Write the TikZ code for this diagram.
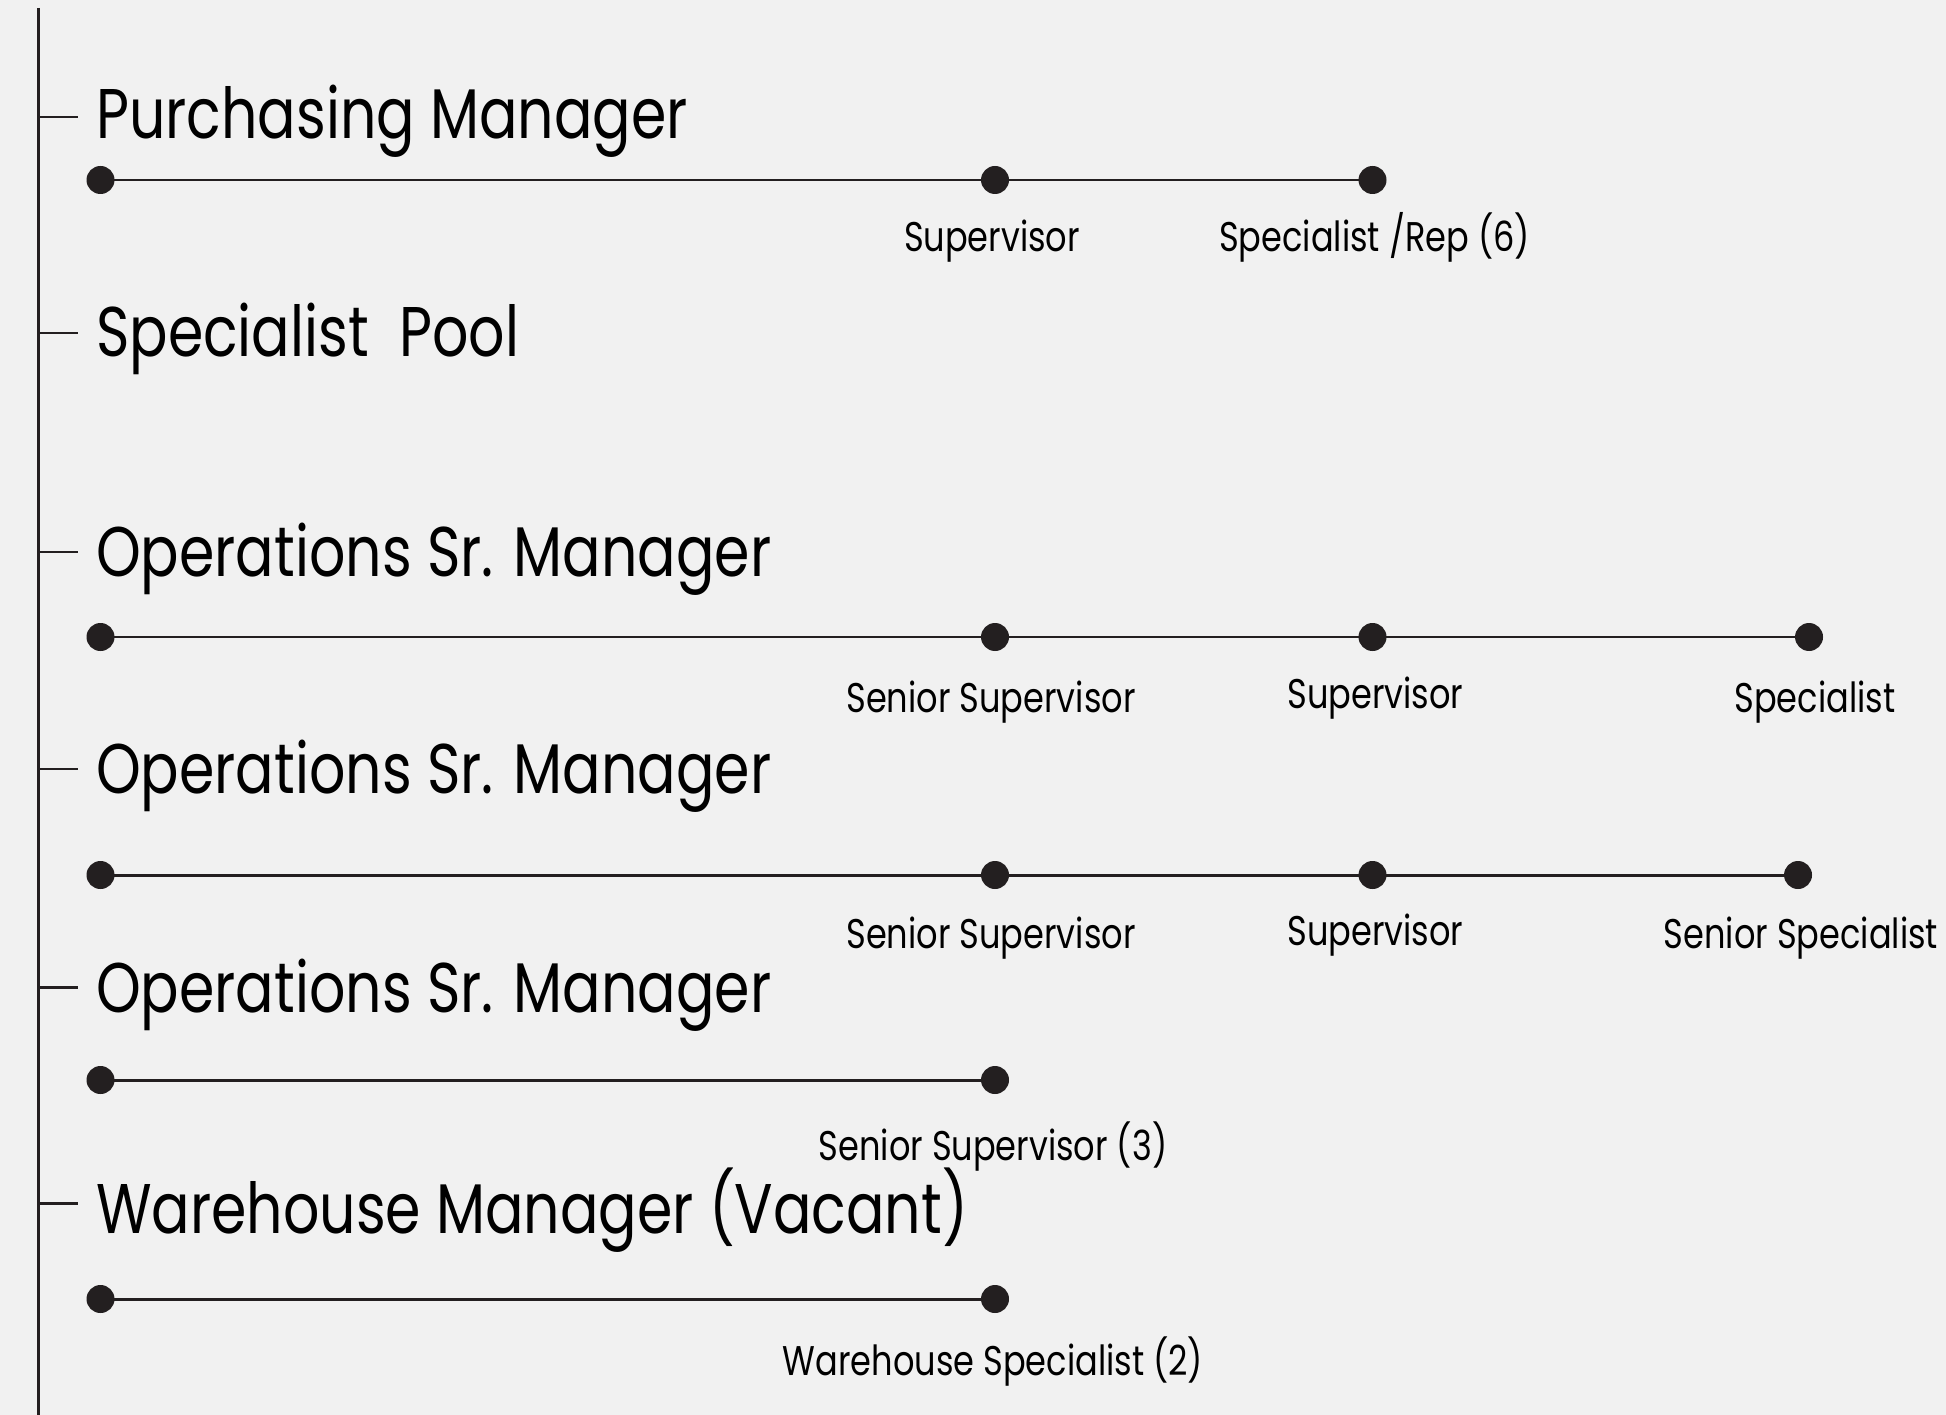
\documentclass[tikz,border=0pt]{standalone}
\usepackage{fontspec}
\setmainfont{Poppins}[FakeStretch=0.81]
\usepackage{tikz}
\usetikzlibrary{calc}
\definecolor{bg}{HTML}{F1F1F1}
\definecolor{ink}{HTML}{231F20}
\tikzset{
  spine/.style={draw=ink, line width=0.85pt},
  tickline/.style={draw=ink, line width=0.85pt},
  bar/.style={draw=ink, line width=0.85pt},
  head/.style={text=black, anchor=base west, inner sep=0pt, font=\fontsize{20}{24}\selectfont},
  role/.style={text=black, anchor=base, inner sep=0pt, font=\fontsize{11.8}{14}\selectfont}
}

\begin{document}
\begin{tikzpicture}
  \fill[bg] (0,0) rectangle (19.46,-14.15);
  \useasboundingbox (0,0) rectangle (19.46,-14.15);

  % spine
  \coordinate (top) at (0.385,-0.08);
  \coordinate (bot) at (0.385,-14.15);
  \draw[spine] (top)--(bot);

  % ticks and headings
  \foreach \n/\y in {t1/1.17, t2/3.33, t3/5.52, t4/7.69, t5/9.87, t6/12.03}{
    \coordinate (\n) at (0.385,-\y);
    \draw[tickline] (\n)--++(0.395,0);
  }
  \node[head] (h1) at ($(t1)+(0.57,-0.22)$) {Purchasing Manager};
  \node[head] (h2) at ($(t2)+(0.57,-0.24)$) {Specialist\ \ Pool};
  \node[head] (h3) at ($(t3)+(0.57,-0.24)$) {Operations Sr. Manager};
  \node[head] (h4) at ($(t4)+(0.57,-0.24)$) {Operations Sr. Manager};
  \node[head] (h5) at ($(t5)+(0.57,-0.25)$) {Operations Sr. Manager};
  \node[head] (h6) at ($(t6)+(0.57,-0.30)$) {Warehouse Manager (Vacant)};

  % dots
  \coordinate (a1) at (1.005,-1.80);
  \coordinate (a2) at (9.95,-1.80);
  \coordinate (a3) at (13.725,-1.80);

  \coordinate (b1) at (1.005,-6.37);
  \coordinate (b2) at (9.95,-6.37);
  \coordinate (b3) at (13.725,-6.37);
  \coordinate (b4) at (18.09,-6.37);

  \coordinate (c1) at (1.005,-8.75);
  \coordinate (c2) at (9.95,-8.75);
  \coordinate (c3) at (13.725,-8.75);
  \coordinate (c4) at (17.98,-8.75);

  \coordinate (d1) at (1.005,-10.80);
  \coordinate (d2) at (9.95,-10.80);

  \coordinate (e1) at (1.005,-12.99);
  \coordinate (e2) at (9.95,-12.99);

  % bars
  \draw[bar] (a1)--(a2)--(a3);
  \draw[bar] (b1)--(b2)--(b3)--(b4);
  \draw[bar] (c1)--(c2)--(c3)--(c4);
  \draw[bar] (d1)--(d2);
  \draw[bar] (e1)--(e2);

  \foreach \p in {a1,a2,a3,b1,b2,b3,b4,c1,c2,c3,c4,d1,d2,e1,e2}
    \fill[ink] (\p) circle (0.14);

  % roles
  \node[role] (ra2) at ($(a2)+(-0.03,-0.72)$) {Supervisor};
  \node[role] (ra3) at ($(a3)+(0.02,-0.72)$) {Specialist /Rep (6)};

  \node[role] (rb2) at ($(b2)+(-0.04,-0.75)$) {Senior Supervisor};
  \node[role] (rb3) at ($(b3)+(0.03,-0.71)$) {Supervisor};
  \node[role] (rb4) at ($(b4)+(0.06,-0.75)$) {Specialist};

  \node[role] (rc2) at ($(c2)+(-0.04,-0.73)$) {Senior Supervisor};
  \node[role] (rc3) at ($(c3)+(0.03,-0.70)$) {Supervisor};
  \node[role] (rc4) at ($(c4)+(0.03,-0.73)$) {Senior Specialist};

  \node[role] (rd2) at ($(d2)+(-0.02,-0.80)$) {Senior Supervisor (3)};
  \node[role] (re2) at ($(e2)+(-0.02,-0.76)$) {Warehouse Specialist (2)};
\end{tikzpicture}
\end{document}
